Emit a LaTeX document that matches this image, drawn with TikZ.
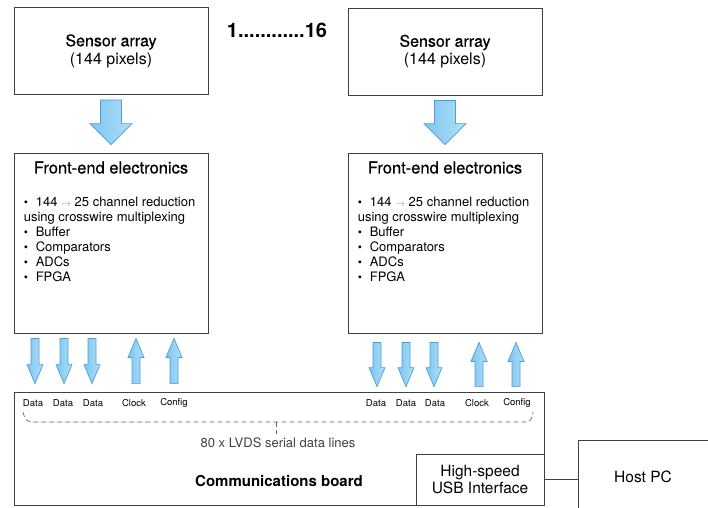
\documentclass[tikz,border=0pt]{standalone}
\usepackage{fontspec}
\setmainfont{TeX Gyre Heros}
\newfontfamily\medfont[FakeBold=0.6]{TeX Gyre Heros}
\usetikzlibrary{positioning,calc}
\definecolor{arrowline}{RGB}{70,160,220}
\definecolor{arrowleft}{RGB}{125,197,240}
\definecolor{arrowright}{RGB}{178,223,248}
\newcommand{\bul}{\makebox[12pt][l]{\fontsize{12}{12}\selectfont\textbullet}}
\newcommand{\arr}{{\color{black!45}\fontsize{10}{10}\selectfont$\rightarrow$}}
\tikzset{
  box/.style={draw=black!75, line width=0.8pt, rectangle},
  fatarrow/.style n args={3}{draw=arrowline, line width=0.7pt,
    left color=arrowleft, right color=arrowright,
    to path={let \p1=($(\tikztotarget)!#3!(\tikztostart)$) in
      ($(\tikztostart)!#1!90:(\tikztotarget)$) -- ($(\p1)!#1!-90:(\tikztostart)$)
      -- ($(\p1)!#2!-90:(\tikztostart)$) -- (\tikztotarget)
      -- ($(\p1)!#2!90:(\tikztostart)$) -- ($(\p1)!#1!90:(\tikztostart)$)
      -- ($(\tikztostart)!#1!-90:(\tikztotarget)$) -- cycle}},
  bigarrow/.style={fatarrow={10.5pt}{21pt}{21pt}},
  smallarrow/.style={fatarrow={4pt}{8pt}{19pt}},
  chan/.style={font=\fontsize{9.5}{11}\selectfont, inner sep=0pt},
  brace/.style={draw=black!60, line width=0.7pt, dash pattern=on 5pt off 3pt}
}
\begin{document}
\begin{tikzpicture}[x=1pt, y=-1pt]
  \useasboundingbox (0,0) rectangle (708,507);
  \clip (0,0) rectangle (708,507);

  % sensor arrays
  \node [box, minimum width=194pt, minimum height=87pt, align=center,
    font=\fontsize{16}{18}\selectfont] (sa1) at (111,51) {{\medfont Sensor array}\\(144 pixels)};
  \node [box, minimum width=194pt, minimum height=87pt, align=center,
    font=\fontsize{16}{18}\selectfont] (sa2) at (445,51.5) {{\medfont Sensor array}\\(144 pixels)};
  \node [font=\fontsize{20}{22}\selectfont\bfseries] (count) at (277,30) {1............16};

  % front-end boards
  \node [box, minimum width=194pt, minimum height=180pt] (fe1) at (111,243) {};
  \node [box, minimum width=194pt, minimum height=180pt] (fe2) at (445,243) {};
  \node [font=\fontsize{16.5}{18}\selectfont\medfont] (fe1title) at ([yshift=-15pt]fe1.north) {Front-end electronics};
  \node [font=\fontsize{16.5}{18}\selectfont\medfont] (fe2title) at ([yshift=-15pt]fe2.north) {Front-end electronics};
  \node [anchor=north west, align=left, inner sep=0pt, font=\fontsize{13}{15}\selectfont]
    (fe1list) at ([xshift=10pt,yshift=-44pt]fe1.north west)
    {\bul 144 \arr\ 25 channel reduction\\using crosswire multiplexing\\\bul Buffer\\\bul Comparators\\\bul ADCs\\\bul FPGA};
  \node [anchor=north west, align=left, inner sep=0pt, font=\fontsize{13}{15}\selectfont]
    (fe2list) at ([xshift=10pt,yshift=-44pt]fe2.north west)
    {\bul 144 \arr\ 25 channel reduction\\using crosswire multiplexing\\\bul Buffer\\\bul Comparators\\\bul ADCs\\\bul FPGA};

  % communications board
  \node [box, minimum width=530pt, minimum height=113pt] (comm) at (279,448.5) {};
  \node [font=\fontsize{15}{17}\selectfont\bfseries] (commlabel) at (279,481) {Communications board};
  \node [font=\fontsize{13}{15}\selectfont, text=black!75] (lvds) at (278,443) {80 x LVDS serial data lines};
  \node [box, minimum width=128pt, minimum height=51pt, align=center,
    font=\fontsize{15.5}{17}\selectfont] (usb) at (480,479.5) {High-speed\\USB Interface};
  \node [box, minimum width=150pt, minimum height=80pt, anchor=north west] (host) at (578,440) {};
  \node [font=\fontsize{15.5}{17}\selectfont] (hostlabel) at (643,477) {Host PC};
  \draw [draw=black!75, line width=0.8pt] (usb.east) -- (usb.east -| host.west);

  % channel labels
  \foreach \xx/\txt in {33/Data,63/Data,93/Data,134/Clock,174/Config,
                        376/Data,406/Data,435/Data,477/Clock,517/Config}
    \node [chan] at (\xx,403) {\txt};

  % dashed brace
  \draw [brace] (23,412) .. controls (25,420) and (27,422) .. (33,422) -- (525,422)
    .. controls (530,422) and (532,420) .. (533,412);
  \draw [brace] (276,422) -- (276,434);

  % arrows
  \draw [bigarrow] ([yshift=-5pt]sa1.south) to ([yshift=8pt]fe1.north);
  \draw [bigarrow] ([yshift=-5pt]sa2.south) to ([yshift=8pt]fe2.north);
  \foreach \xx in {35,64,92}
    \draw [smallarrow] ([yshift=-5pt]fe1.south -| \xx,0) to ([yshift=8pt]comm.north -| \xx,0);
  \foreach \xx in {136,174}
    \draw [smallarrow] ([yshift=8pt]comm.north -| \xx,0) to ([yshift=-5pt]fe1.south -| \xx,0);
  \foreach \xx in {377,406,434}
    \draw [smallarrow] ([yshift=-9pt]fe2.south -| \xx,0) to ([yshift=5pt]comm.north -| \xx,0);
  \foreach \xx in {479,516}
    \draw [smallarrow] ([yshift=5pt]comm.north -| \xx,0) to ([yshift=-9pt]fe2.south -| \xx,0);
\end{tikzpicture}
\end{document}
